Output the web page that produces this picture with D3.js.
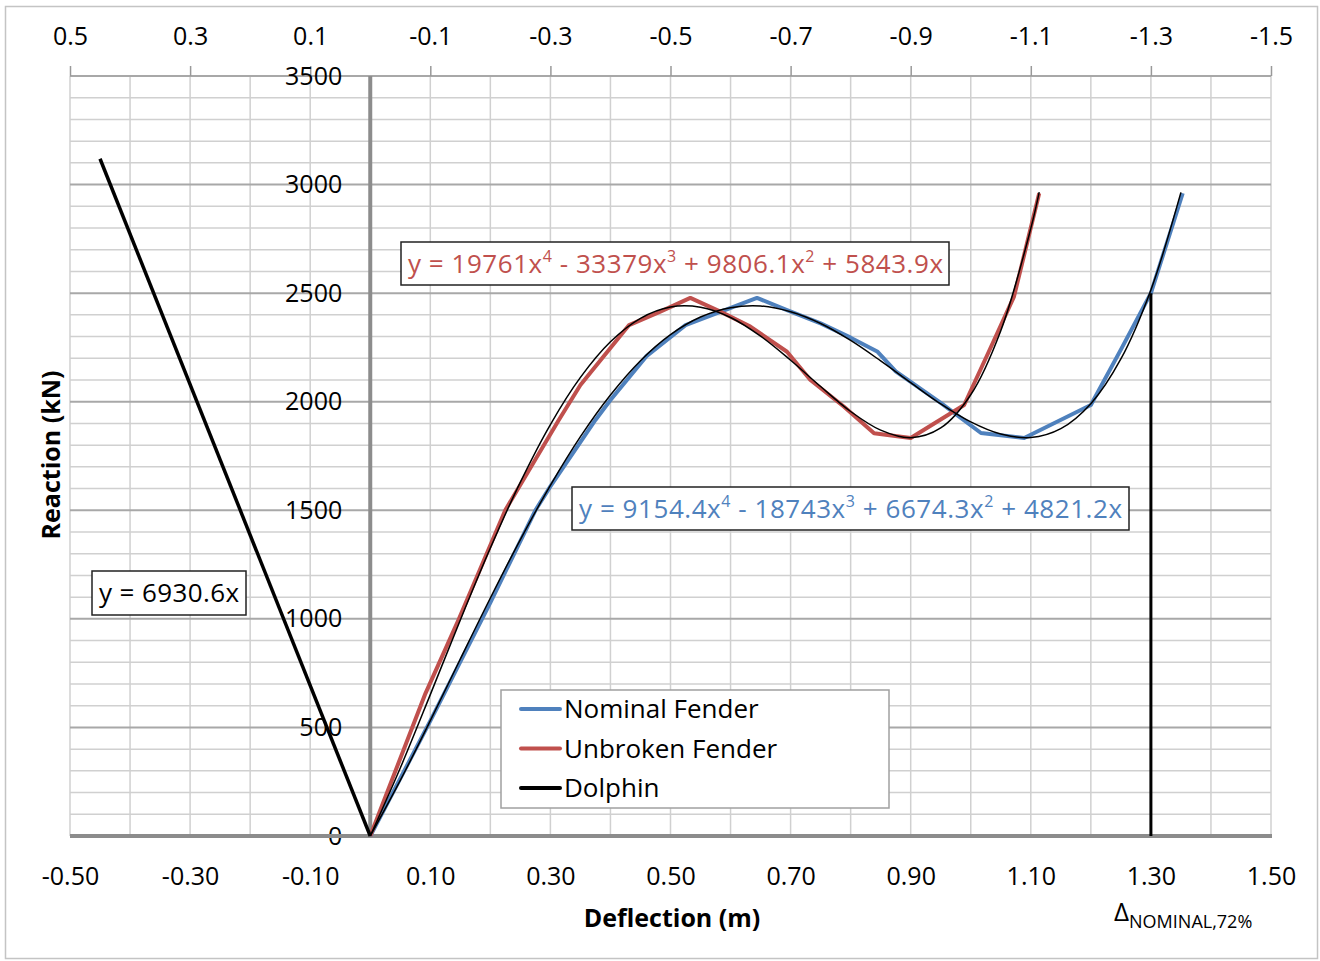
<!DOCTYPE html>
<html>
<head>
<meta charset="utf-8">
<script src="https://cdn.jsdelivr.net/npm/d3@7"></script>
<style>
  body { margin: 0; background: #fff; }
  svg text { font-family: "Open Sans", sans-serif; }
</style>
</head>
<body>
<svg width="1320" height="961"></svg>
<script>
// nominal fender (blue)
var nomDefl  = [0, 0.10, 0.20, 0.275, 0.30, 0.375, 0.40, 0.46, 0.525, 0.644, 0.694, 0.75, 0.80, 0.845, 0.875, 0.95, 1.017, 1.089, 1.20, 1.25, 1.30, 1.353];
var nomReact = [0, 530, 1075, 1500, 1610, 1916, 2008, 2210, 2353, 2478, 2422, 2361, 2295, 2230, 2140, 1995, 1856, 1833, 1985, 2240, 2500, 2960];

// unbroken fender (red)
var unbDefl  = [0, 0.092, 0.147, 0.225, 0.314, 0.35, 0.431, 0.483, 0.533, 0.583, 0.633, 0.694, 0.733, 0.789, 0.839, 0.90, 0.989, 1.03, 1.072, 1.114];
var unbReact = [0, 657, 995, 1501, 1916, 2077, 2353, 2415, 2478, 2415, 2346, 2230, 2100, 1977, 1855, 1833, 1985, 2230, 2484, 2960];

// thin black trend lines
var nomTrendDefl  = [0, 0.05, 0.1, 0.15, 0.2, 0.25, 0.3, 0.35, 0.4, 0.45, 0.5, 0.55, 0.6, 0.65, 0.7, 0.75, 0.8, 0.85, 0.9, 0.95, 1.0, 1.05, 1.1, 1.15, 1.2, 1.25, 1.3, 1.35];
var nomTrendReact = [0, 256, 531, 815, 1096, 1365, 1615, 1839, 2031, 2189, 2309, 2390, 2433, 2441, 2414, 2360, 2282, 2188, 2088, 1990, 1907, 1851, 1835, 1876, 1991, 2197, 2515, 2964];
var unbTrendDefl  = [0, 0.05, 0.1, 0.15, 0.2, 0.25, 0.3, 0.35, 0.4, 0.45, 0.5, 0.55, 0.6, 0.65, 0.7, 0.75, 0.8, 0.85, 0.9, 0.95, 1.0, 1.05, 1.1, 1.114];
var unbTrendReact = [0, 313, 651, 995, 1326, 1630, 1895, 2112, 2276, 2384, 2436, 2435, 2388, 2302, 2191, 2070, 1955, 1869, 1834, 1879, 2032, 2327, 2798, 2965];

// dolphin
var dolDefl  = [-0.45, 0];
var dolReact = [3119, 0];

// nominal 72% marker
var markDefl  = [1.30, 1.30];
var markReact = [0, 2500];

var bottomTicks = [-0.5, -0.3, -0.1, 0.1, 0.3, 0.5, 0.7, 0.9, 1.1, 1.3, 1.5];
var topTicks    = [0.5, 0.3, 0.1, -0.1, -0.3, -0.5, -0.7, -0.9, -1.1, -1.3, -1.5];
var yTicks      = [0, 500, 1000, 1500, 2000, 2500, 3000, 3500];

var legendNames  = ["Nominal Fender", "Unbroken Fender", "Dolphin"];
var legendColors = ["#4F81BD", "#C0504D", "#000000"];

var svg = d3.select("svg");

var x = d3.scaleLinear().domain([-0.5, 1.5]).range([70, 1271]);
var xTop = d3.scaleLinear().domain([0.5, -1.5]).range([70, 1271]);
var y = d3.scaleLinear().domain([0, 3500]).range([836, 76]);

function zip(a, b) {
    var out = [];
    for (var i = 0; i < a.length; i++) {
        out.push([a[i], b[i]]);
    }
    return out;
}

// outer frame
svg.append("rect")
    .attr("x", 5.5).attr("y", 6.5)
    .attr("width", 1312).attr("height", 952)
    .attr("fill", "white")
    .attr("stroke", "#c4c4c4")
    .attr("stroke-width", 1.5);

// grid
var grid = svg.append("g");
grid.selectAll("line.v")
    .data(x.ticks(20))
    .enter().append("line")
    .attr("x1", function (d) { return x(d); })
    .attr("x2", function (d) { return x(d); })
    .attr("y1", y(3500)).attr("y2", y(0))
    .attr("stroke", "#d0d0d0")
    .attr("stroke-width", 1.5);
grid.selectAll("line.h")
    .data(y.ticks(35))
    .enter().append("line")
    .attr("x1", x(-0.5)).attr("x2", x(1.5))
    .attr("y1", function (d) { return y(d); })
    .attr("y2", function (d) { return y(d); })
    .attr("stroke", function (d) { return d % 500 == 0 ? "#a8a8a8" : "#d0d0d0"; })
    .attr("stroke-width", function (d) { return d % 500 == 0 ? 2 : 1.5; });

// top axis (reversed)
var gTop = svg.append("g")
    .attr("transform", "translate(0," + y(3500) + ")")
    .call(d3.axisTop(xTop).tickValues(topTicks).tickSize(10).tickPadding(21)
        .tickFormat(function (d) { return d.toFixed(1); }));
gTop.select(".domain").remove();
gTop.selectAll("line").attr("stroke", "#999").attr("stroke-width", 1.5);
gTop.selectAll("text").style("font-size", "25px").attr("fill", "#000");

// bottom axis labels
var gBot = svg.append("g")
    .attr("transform", "translate(0," + y(0) + ")")
    .call(d3.axisBottom(x).tickValues(bottomTicks).tickSize(0).tickPadding(31)
        .tickFormat(function (d) { return d.toFixed(2); }));
gBot.select(".domain").remove();
gBot.selectAll("text").style("font-size", "25px").attr("fill", "#000");

// y axis labels
var gLeft = svg.append("g")
    .attr("transform", "translate(" + x(0) + ",0)")
    .call(d3.axisLeft(y).tickValues(yTicks).tickSize(0).tickPadding(28)
        .tickFormat(d3.format("d")));
gLeft.select(".domain").remove();
gLeft.selectAll("text").style("font-size", "25px").attr("fill", "#000");

// thick axis lines
svg.append("line")
    .attr("x1", x(-0.5)).attr("x2", x(1.5) + 1)
    .attr("y1", y(0)).attr("y2", y(0))
    .attr("stroke", "#8c8c8c").attr("stroke-width", 4);
svg.append("line")
    .attr("x1", x(0)).attr("x2", x(0))
    .attr("y1", y(3500)).attr("y2", y(0))
    .attr("stroke", "#8c8c8c").attr("stroke-width", 4);

var line = d3.line()
    .x(function (d) { return x(d[0]); })
    .y(function (d) { return y(d[1]); });
var smooth = d3.line()
    .x(function (d) { return x(d[0]); })
    .y(function (d) { return y(d[1]); })
    .curve(d3.curveCatmullRom);

svg.append("path").datum(zip(nomDefl, nomReact))
    .attr("d", line).attr("fill", "none")
    .attr("stroke", legendColors[0]).attr("stroke-width", 4).attr("stroke-linejoin", "round");
svg.append("path").datum(zip(unbDefl, unbReact))
    .attr("d", line).attr("fill", "none")
    .attr("stroke", legendColors[1]).attr("stroke-width", 4).attr("stroke-linejoin", "round");
svg.append("path").datum(zip(nomTrendDefl, nomTrendReact))
    .attr("d", smooth).attr("fill", "none")
    .attr("stroke", "#000").attr("stroke-width", 1.5);
svg.append("path").datum(zip(unbTrendDefl, unbTrendReact))
    .attr("d", smooth).attr("fill", "none")
    .attr("stroke", "#000").attr("stroke-width", 1.5);
svg.append("path").datum(zip(dolDefl, dolReact))
    .attr("d", line).attr("fill", "none")
    .attr("stroke", "#000").attr("stroke-width", 3.5);
svg.append("path").datum(zip(markDefl, markReact))
    .attr("d", line).attr("fill", "none")
    .attr("stroke", "#000").attr("stroke-width", 3);

// equation boxes; textW = width the text should fill
function eqBox(bx, by, bw, bh, textW, color, parts) {
    svg.append("rect")
        .attr("x", bx).attr("y", by).attr("width", bw).attr("height", bh)
        .attr("fill", "white").attr("stroke", "#222").attr("stroke-width", 1.5);
    var t = svg.append("text")
        .attr("x", bx + 7).attr("y", by + bh / 2 + 9)
        .attr("fill", color)
        .attr("textLength", textW)
        .attr("lengthAdjust", "spacing")
        .style("font-size", "26px");
    var up = false;
    for (var i = 0; i < parts.length; i++) {
        if (parts[i].sup) {
            t.append("tspan").attr("dy", -11).style("font-size", "16px").text(parts[i].sup);
            up = true;
        } else {
            t.append("tspan").attr("dy", up ? 11 : 0).text(parts[i].t);
            up = false;
        }
    }
}
eqBox(401, 242, 548, 43, 535, "#C0504D",
    [{t: "y = 19761x"}, {sup: "4"}, {t: " - 33379x"}, {sup: "3"}, {t: " + 9806.1x"}, {sup: "2"}, {t: " + 5843.9x"}]);
eqBox(572, 487, 557, 43, 543, "#4F81BD",
    [{t: "y = 9154.4x"}, {sup: "4"}, {t: " - 18743x"}, {sup: "3"}, {t: " + 6674.3x"}, {sup: "2"}, {t: " + 4821.2x"}]);
eqBox(92, 571, 154, 44, 140, "#000", [{t: "y = 6930.6x"}]);

// legend
var lg = svg.append("g");
lg.append("rect")
    .attr("x", 501).attr("y", 690).attr("width", 388).attr("height", 118)
    .attr("fill", "white").attr("stroke", "#a0a0a0").attr("stroke-width", 1.5);
lg.selectAll("line.key")
    .data(legendNames)
    .enter().append("line")
    .attr("x1", 521).attr("x2", 560)
    .attr("y1", function (d, i) { return 709 + i * 39.5; })
    .attr("y2", function (d, i) { return 709 + i * 39.5; })
    .attr("stroke", function (d, i) { return legendColors[i]; })
    .attr("stroke-width", 4).attr("stroke-linecap", "round");
lg.selectAll("text.key")
    .data(legendNames)
    .enter().append("text")
    .attr("x", 564)
    .attr("y", function (d, i) { return 709 + i * 39.5 + 9; })
    .style("font-size", "26px")
    .text(function (d) { return d; });

// axis titles
svg.append("text")
    .attr("transform", "translate(60,455)rotate(-90)")
    .attr("text-anchor", "middle")
    .style("font-size", "25px").style("font-weight", "bold")
    .text("Reaction (kN)");
svg.append("text")
    .attr("x", 672).attr("y", 927)
    .attr("text-anchor", "middle")
    .style("font-size", "25px").style("font-weight", "bold")
    .text("Deflection (m)");

var dl = svg.append("text")
    .attr("x", 1114).attr("y", 921)
    .style("font-size", "26px")
    .text("Δ");
dl.append("tspan").attr("dy", 7).style("font-size", "18px").text("NOMINAL,72%");
</script>
</body>
</html>
